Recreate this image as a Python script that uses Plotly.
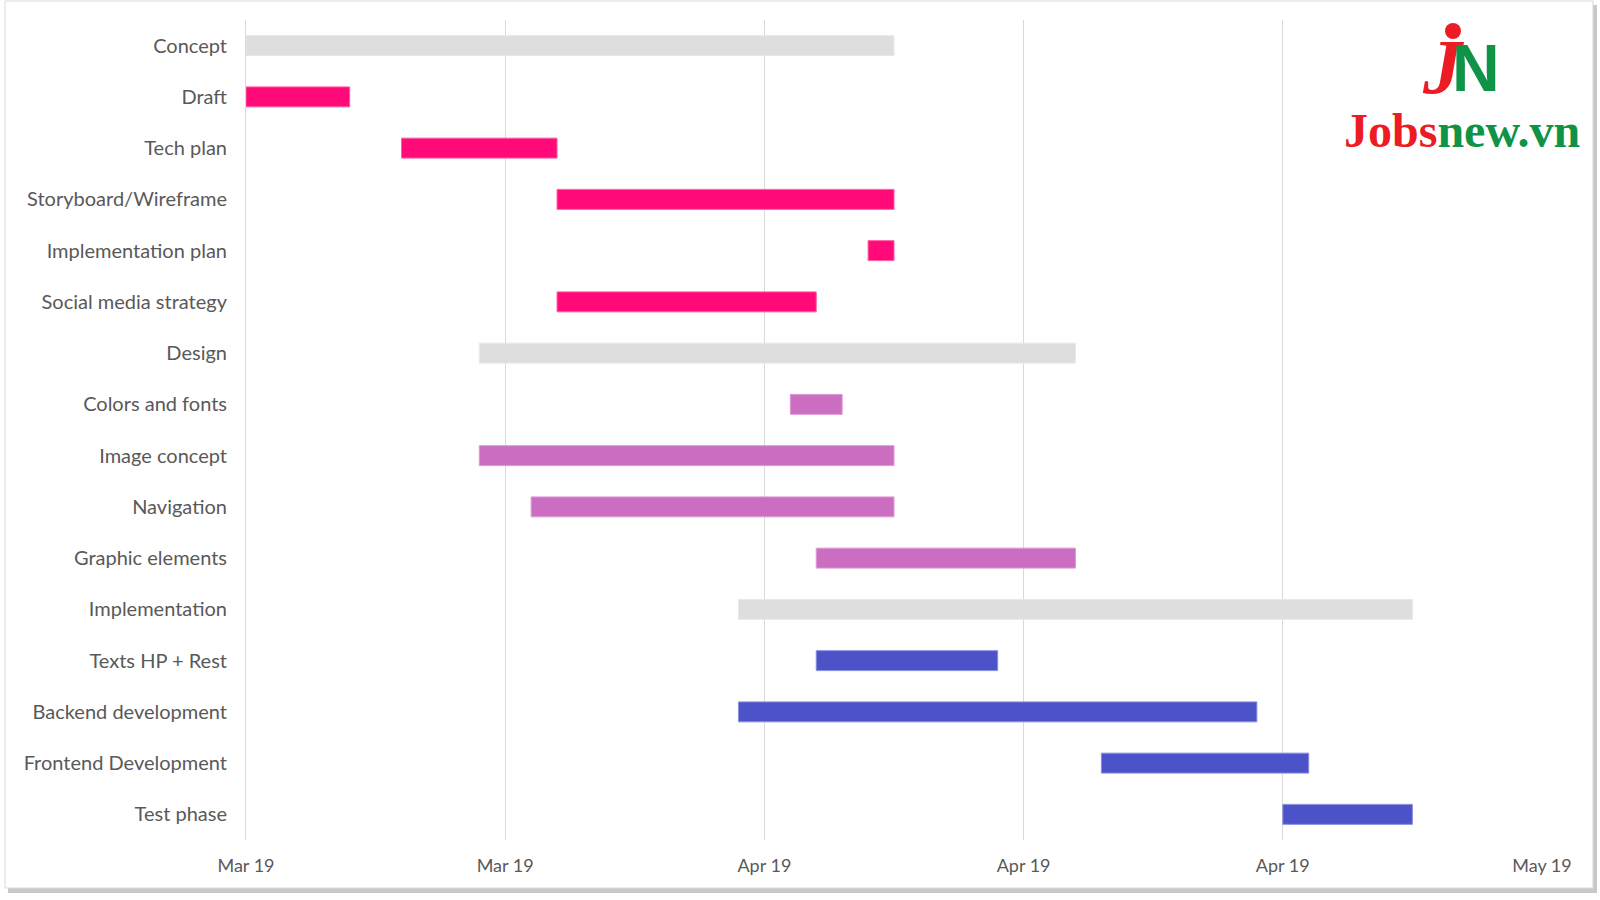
import plotly.graph_objects as go
import pandas as pd

tasks = ["Concept", "Draft", "Tech plan", "Storyboard/Wireframe", "Implementation plan",
         "Social media strategy", "Design", "Colors and fonts", "Image concept", "Navigation",
         "Graphic elements", "Implementation", "Texts HP + Rest", "Backend development",
         "Frontend Development", "Test phase"]
start_dates = ["2019-03-15", "2019-03-15", "2019-03-21", "2019-03-27", "2019-04-08",
               "2019-03-27", "2019-03-24", "2019-04-05", "2019-03-24", "2019-03-26",
               "2019-04-06", "2019-04-03", "2019-04-06", "2019-04-03",
               "2019-04-17", "2019-04-24"]
end_dates = ["2019-04-09", "2019-03-19", "2019-03-27", "2019-04-09", "2019-04-09",
             "2019-04-06", "2019-04-16", "2019-04-07", "2019-04-09", "2019-04-09",
             "2019-04-16", "2019-04-29", "2019-04-13", "2019-04-23",
             "2019-04-25", "2019-04-29"]
groups = ["head", "concept", "concept", "concept", "concept", "concept",
          "head", "design", "design", "design", "design",
          "head", "impl", "impl", "impl", "impl"]
tick_dates = ["2019-03-15", "2019-03-25", "2019-04-04", "2019-04-14", "2019-04-24", "2019-05-04"]

group_colors = {"head": "#DEDEDE", "concept": "#FF0A78", "design": "#CB6EC2", "impl": "#4C53C8"}
group_lines = {"head": "#E8E8E8", "concept": "#FF5FA3", "design": "#DE9AD6", "impl": "#8A8FE0"}

df = pd.DataFrame({"task": tasks, "start": pd.to_datetime(start_dates),
                   "end": pd.to_datetime(end_dates), "group": groups})
df["dur"] = (df["end"] - df["start"]).dt.total_seconds() * 1000

fig = go.Figure()
for g in ["head", "concept", "design", "impl"]:
    d = df[df["group"] == g]
    fig.add_trace(go.Bar(
        y=d["task"], x=d["dur"], base=d["start"].dt.strftime("%Y-%m-%d"),
        orientation="h", width=0.39,
        marker=dict(color=group_colors[g], line=dict(color=group_lines[g], width=1)),
        hoverinfo="skip", showlegend=False))

# plot area: x 246..1542, y 20..840
def px(x):
    return (x - 246) / 1296
def py(y):
    return (840 - y) / 820

shapes = [
    dict(type="rect", xref="paper", yref="paper", x0=px(8), x1=px(1597), y0=py(893), y1=py(5),
         fillcolor="#C8C8C8", line=dict(width=0), layer="below"),
    dict(type="rect", xref="paper", yref="paper", x0=px(5), x1=px(1593), y0=py(888), y1=py(1),
         fillcolor="white", line=dict(color="#D9D9D9", width=1), layer="below"),
    dict(type="circle", xref="paper", yref="paper", x0=px(1445), x1=px(1461), y0=py(39), y1=py(23),
         fillcolor="#ED1C24", line=dict(width=0)),
]

annotations = [
    dict(xref="paper", yref="paper", x=px(1443), y=py(66), text="J", showarrow=False,
         xanchor="center", yanchor="middle",
         font=dict(family="Liberation Serif", size=78, color="#ED1C24", style="italic", weight="bold")),
    dict(xref="paper", yref="paper", x=px(1476), y=py(68), text="N", showarrow=False,
         xanchor="center", yanchor="middle",
         font=dict(family="Liberation Sans", size=66, color="#0F9347", weight="bold")),
    dict(xref="paper", yref="paper", x=px(1462), y=py(130), showarrow=False,
         xanchor="center", yanchor="middle",
         text="<span style='color:#ED1C24'>Jobs</span><span style='color:#0F9347'>new.vn</span>",
         font=dict(family="Liberation Serif", size=48, weight="bold")),
]

fig.update_layout(
    width=1600, height=900,
    margin=dict(l=246, r=58, t=20, b=60),
    paper_bgcolor="white", plot_bgcolor="rgba(0,0,0,0)",
    barmode="overlay",
    shapes=shapes, annotations=annotations,
    font=dict(family="Lato", color="#595959", size=18),
    xaxis=dict(type="date", range=[tick_dates[0], tick_dates[-1]],
               tickvals=tick_dates, tickformat="%b %y",
               showgrid=True, gridcolor="#D9D9D9", gridwidth=1,
               zeroline=False, showline=False, ticks="", ticklabelstandoff=13,
               tickfont=dict(family="Lato", size=18, color="#595959")),
    yaxis=dict(categoryorder="array", categoryarray=tasks, autorange="reversed",
               showgrid=False, zeroline=False, showline=True, linecolor="#D9D9D9",
               ticks="", ticklabelstandoff=14,
               tickfont=dict(family="Lato", size=20, color="#595959")),
)

fig.write_html("out.html", config={"displayModeBar": False},
               post_script="document.body.style.margin='0';document.body.style.overflow='hidden';")
